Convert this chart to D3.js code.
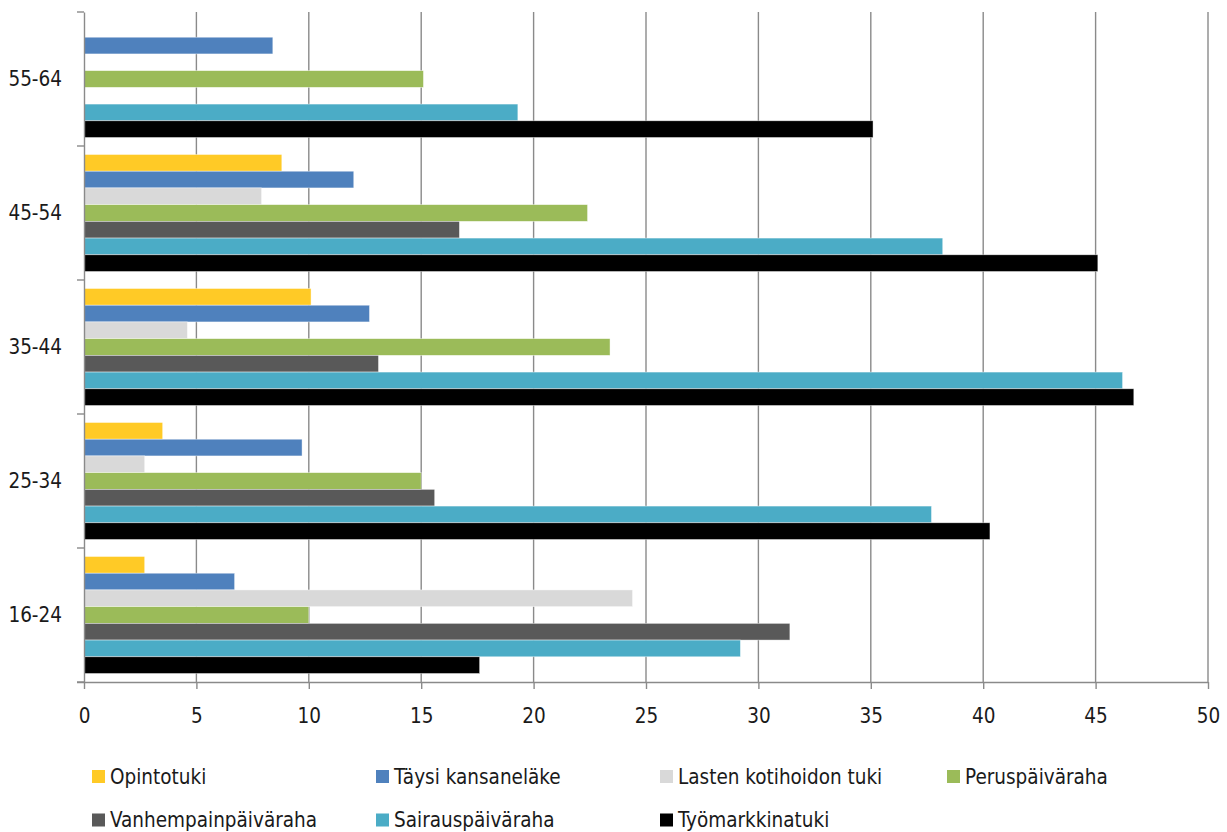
<!DOCTYPE html>
<html lang="fi">
<head>
    <meta charset="UTF-8">
    <title>Etuudet ikäryhmittäin</title>
    <script src="https://d3js.org/d3.v7.min.js"></script>
    <style>
        body { margin: 0; background: #fff; }
        text { font-family: "Liberation Sans Narrow", "DejaVu Sans Condensed", sans-serif; fill: #1a1a1a; }
    </style>
</head>
<body>
    <svg id="chart"></svg>

    <script>
        const width = 1227;
        const height = 832;

        // age groups, top to bottom as drawn
        const categories = ["55-64", "45-54", "35-44", "25-34", "16-24"];

        const seriesNames = ["Opintotuki", "Täysi kansaneläke", "Lasten kotihoidon tuki", "Peruspäiväraha",
            "Vanhempainpäiväraha", "Sairauspäiväraha", "Työmarkkinatuki"];
        const seriesColors = ["#FFCA26", "#4F81BD", "#D9D9D9", "#9BBB59", "#595959", "#4BACC6", "#000000"];

        // values per series, in the order of categories (55-64 ... 16-24)
        const opintotuki = [null, 8.8, 10.1, 3.5, 2.7];
        const taysiKansanelake = [8.4, 12.0, 12.7, 9.7, 6.7];
        const lastenKotihoidonTuki = [null, 7.9, 4.6, 2.7, 24.4];
        const peruspaivaraha = [15.1, 22.4, 23.4, 15.0, 10.0];
        const vanhempainpaivaraha = [null, 16.7, 13.1, 15.6, 31.4];
        const sairauspaivaraha = [19.3, 38.2, 46.2, 37.7, 29.2];
        const tyomarkkinatuki = [35.1, 45.1, 46.7, 40.3, 17.6];

        const xTicks = [0, 5, 10, 15, 20, 25, 30, 35, 40, 45, 50];

        const seriesValues = [opintotuki, taysiKansanelake, lastenKotihoidonTuki, peruspaivaraha,
            vanhempainpaivaraha, sairauspaivaraha, tyomarkkinatuki];

        const margin = {top: 12, right: 19, bottom: 150, left: 84};

        const svg = d3.select("#chart")
            .attr("viewBox", [0, 0, width, height])
            .attr("width", width)
            .attr("height", height);

        const x = d3.scaleLinear()
            .domain([0, 50])
            .range([margin.left, width - margin.right]);

        const y0 = d3.scaleBand()
            .domain(categories)
            .range([margin.top, height - margin.bottom]);

        const y1 = d3.scaleBand()
            .domain(seriesNames)
            .range([8.5, y0.bandwidth() - 8.5]);

        // vertical gridlines
        svg.append("g")
            .selectAll("line")
            .data(xTicks.slice(1))
            .join("line")
            .attr("x1", d => x(d))
            .attr("x2", d => x(d))
            .attr("y1", margin.top)
            .attr("y2", height - margin.bottom)
            .attr("stroke", "#8a8a8a")
            .attr("stroke-width", 1.4);

        // bars
        const groups = svg.append("g")
            .selectAll("g")
            .data(categories)
            .join("g")
            .attr("transform", d => `translate(0,${y0(d)})`);

        groups.selectAll("rect")
            .data((c, ci) => seriesNames.map((s, si) => ({series: s, color: seriesColors[si], value: seriesValues[si][ci]})))
            .join("rect")
            .filter(d => d.value != null)
            .attr("x", x(0))
            .attr("y", d => y1(d.series))
            .attr("width", d => x(d.value) - x(0))
            .attr("height", y1.bandwidth())
            .attr("fill", d => d.color)
            .attr("stroke", "#ffffff")
            .attr("stroke-opacity", 0.6)
            .attr("stroke-width", 0.7);

        // x axis
        const xAxis = svg.append("g")
            .attr("transform", `translate(0,${height - margin.bottom})`)
            .call(d3.axisBottom(x).tickValues(xTicks).tickSize(7).tickPadding(19));
        xAxis.select(".domain").attr("stroke", "#8a8a8a").attr("stroke-width", 1.4)
            .attr("d", `M${margin.left - 7},0.5H${width - margin.right}`);
        xAxis.selectAll(".tick line").attr("stroke", "#8a8a8a").attr("stroke-width", 1.4);
        xAxis.selectAll(".tick text").attr("font-size", 20.5).attr("fill", "#1a1a1a");

        // y axis
        const yAxis = svg.append("g")
            .attr("transform", `translate(${margin.left},0)`)
            .call(d3.axisLeft(y0).tickSize(0).tickPadding(22));
        yAxis.select(".domain").attr("stroke", "#8a8a8a").attr("stroke-width", 1.4);
        yAxis.selectAll(".tick text").attr("font-size", 20.5).attr("fill", "#1a1a1a");

        // y ticks at band borders
        const borders = categories.map(c => y0(c)).concat([height - margin.bottom]);
        svg.append("g")
            .selectAll("line")
            .data(borders)
            .join("line")
            .attr("x1", margin.left - 7)
            .attr("x2", margin.left)
            .attr("y1", d => d)
            .attr("y2", d => d)
            .attr("stroke", "#8a8a8a")
            .attr("stroke-width", 1.4);

        // legend
        const legendCols = [92, 376, 660, 947];
        const legendRows = [776.5, 820];
        const legend = svg.append("g")
            .selectAll("g")
            .data(seriesNames)
            .join("g")
            .attr("transform", (d, i) => `translate(${legendCols[i % 4]},${legendRows[Math.floor(i / 4)]})`);

        legend.append("rect")
            .attr("x", 0)
            .attr("y", -6.5)
            .attr("width", 13)
            .attr("height", 13)
            .attr("fill", (d, i) => seriesColors[i]);

        legend.append("text")
            .attr("x", 18)
            .attr("dy", "0.36em")
            .attr("font-size", 20.5)
            .text(d => d);
    </script>
</body>
</html>
